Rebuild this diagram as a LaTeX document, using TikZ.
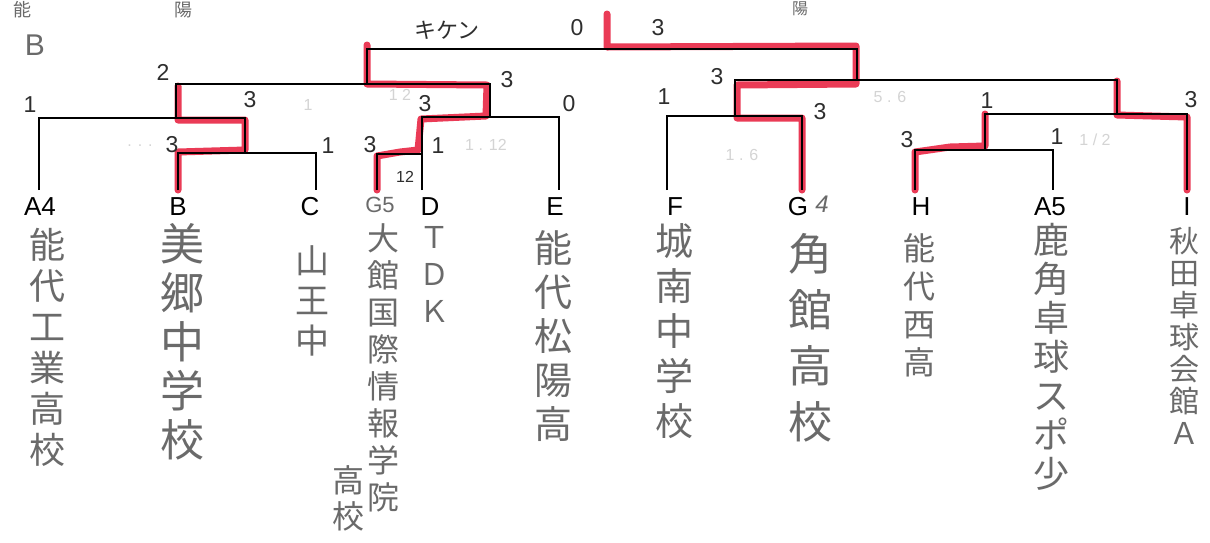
\documentclass[tikz,border=0pt]{standalone}
\usepackage{fontspec}
\setmainfont{Liberation Sans}
\newfontfamily\cjk{Noto Sans CJK JP}
\definecolor{hl}{HTML}{E8203F}
\definecolor{pencil}{HTML}{6A6A6A}
\definecolor{ink}{HTML}{2E2E2E}
\definecolor{faint}{HTML}{D4D4D4}
\begin{document}
\begin{tikzpicture}[x=1pt,y=-1pt,
 line/.style={black, line width=1.7pt},
 win/.style={hl, line width=7pt, line join=round, line cap=round, opacity=0.88},
 leaf/.style={font=\fontsize{26}{26}\selectfont, inner sep=0},
 score/.style={ink, font=\fontsize{23}{23}\selectfont, inner sep=0},
 faintnum/.style={faint, font=\fontsize{16}{16}\selectfont, inner sep=0},
 vname/.style={pencil, align=center, anchor=north, inner sep=0},
]
\useasboundingbox (0,0) rectangle (1210,542);
\fill[white] (0,0) rectangle (1210,542);
% leaf ends
\coordinate (A4) at (39,190);
\coordinate (B) at (178,190);
\coordinate (C) at (316,190);
\coordinate (G5) at (377,190);
\coordinate (D) at (422,190);
\coordinate (E) at (559,190);
\coordinate (F) at (667,190);
\coordinate (G) at (802,190);
\coordinate (H) at (915,190);
\coordinate (A5) at (1053,190);
\coordinate (I) at (1187,190);
% winner highlights
\draw[win] (B) -- (178,152) -- (245,150) -- (245,120) -- (178,120) -- (178,86);
\draw[win] (G5) -- (377,156) -- (400,152) -- (418,150) -- (421,119) -- (486,116) -- (487,85) -- (367,84) -- (367,45);
\draw[win] (607,14) -- (607,47) -- (856,46) -- (856,84) -- (737,85) -- (737,118) -- (802,118) -- (G);
\draw[win] (H) -- (915,152) -- (950,147) -- (985,146) -- (985,114);
\draw[win] (1117,81) -- (1117,115) -- (1187,117) -- (I);
% bracket lines
\draw[line] (A4) -- (39,118) -- (245,118) -- (245,153);
\draw[line] (B) -- (178,153) -- (316,153) -- (C);
\draw[line] (176,118) -- (176,84) -- (490,84) -- (490,117);
\draw[line] (G5) -- (377,154) -- (422,154);
\draw[line] (D) -- (422,117) -- (559,117) -- (E);
\draw[line] (367,84) -- (367,49) -- (857,49) -- (857,80);
\draw[line] (F) -- (667,116) -- (802,116) -- (G);
\draw[line] (735,116) -- (735,80) -- (1117,80) -- (1117,114);
\draw[line] (H) -- (915,150) -- (1053,150) -- (A5);
\draw[line] (985,150) -- (985,114) -- (1187,114) -- (I);
% leaf labels
\node[leaf] (lA4) at (40,207) {A4};
\node[leaf] (lB) at (178,207) {B};
\node[leaf] (lC) at (310,207) {C};
\node[pencil, font=\fontsize{22}{22}\selectfont, inner sep=0] (lG5) at (380,205) {G5};
\node[leaf] (lD) at (430,207) {D};
\node[leaf] (lE) at (555,207) {E};
\node[leaf] (lF) at (675,207) {F};
\node[leaf] (lG) at (798,207) {G};
\node[pencil, font=\fontsize{24}{24}\selectfont\itshape, inner sep=0] (lG4) at (822,204) {4};
\node[leaf] (lH) at (921,207) {H};
\node[leaf] (lA5) at (1050,207) {A5};
\node[leaf] (lI) at (1187,207) {I};
% team names
\node[vname, font=\cjk\fontsize{36}{41}\selectfont] (nA4) at (47,228) {能\\代\\工\\業\\高\\校};
\node[vname, font=\cjk\fontsize{44}{49}\selectfont] (nB) at (182,223) {美\\郷\\中\\学\\校};
\node[vname, font=\cjk\fontsize{34}{40}\selectfont] (nC) at (312,245) {山\\王\\中};
\node[vname, font=\cjk\fontsize{32}{37}\selectfont] (nG5) at (383,223) {大\\館\\国\\際\\情\\報\\学\\院};
\node[vname, font=\cjk\fontsize{32}{36}\selectfont] (nG5b) at (348,465) {高\\校};
\node[vname, font=\cjk\fontsize{30}{37}\selectfont] (nD) at (434,226) {Ｔ\\Ｄ\\Ｋ};
\node[vname, font=\cjk\fontsize{38}{44}\selectfont] (nE) at (553,230) {能\\代\\松\\陽\\高};
\node[vname, font=\cjk\fontsize{38}{45}\selectfont] (nF) at (674,223) {城\\南\\中\\学\\校};
\node[vname, font=\cjk\fontsize{44}{56}\selectfont] (nG) at (810,233) {角\\館\\高\\校};
\node[vname, font=\cjk\fontsize{32}{38}\selectfont] (nH) at (919,233) {能\\代\\西\\高};
\node[vname, font=\cjk\fontsize{36}{39}\selectfont] (nA5) at (1051,223) {鹿\\角\\卓\\球\\ス\\ポ\\少};
\node[vname, font=\cjk\fontsize{30}{32}\selectfont] (nI) at (1184,227) {秋\\田\\卓\\球\\会\\館\\Ａ};
% marks at top
\node[pencil, font=\cjk\fontsize{18}{18}\selectfont, inner sep=0] (tp1) at (22,10) {能};
\node[pencil, font=\cjk\fontsize{18}{18}\selectfont, inner sep=0] (tp2) at (183,10) {陽};
\node[pencil, font=\cjk\fontsize{16}{16}\selectfont, inner sep=0] (tp3) at (800,9) {陽};
\node[pencil, font=\fontsize{30}{30}\selectfont, inner sep=0] (tpB) at (35,45) {B};
% scores
\node[ink, font=\cjk\fontsize{22}{22}\selectfont, inner sep=0] (kiken) at (447,30) {キケン};
\node[score] (s1) at (577,28) {0};
\node[score] (s2) at (658,28) {3};
\node[score] (s3) at (163,72) {2};
\node[score] (s4) at (507,80) {3};
\node[score] (s5) at (30,105) {1};
\node[score] (s6) at (250,100) {3};
\node[score] (s7) at (172,145) {3};
\node[score] (s8) at (328,146) {1};
\node[score] (s9) at (425,104) {3};
\node[score] (s10) at (569,104) {0};
\node[score] (s11) at (370,145) {3};
\node[score] (s12) at (438,146) {1};
\node[score, font=\fontsize{16}{16}\selectfont] (s13) at (405,177) {12};
\node[score] (s14) at (717,77) {3};
\node[score] (s15) at (664,97) {1};
\node[score] (s16) at (820,112) {3};
\node[score] (s17) at (987,101) {1};
\node[score] (s18) at (1191,100) {3};
\node[score] (s19) at (907,140) {3};
\node[score] (s20) at (1057,137) {1};
% faint pencil notes
\node[faintnum] (f1) at (308,105) {1};
\node[faintnum] (f2) at (400,95) {1 2};
\node[faintnum] (f3) at (486,145) {1 . 12};
\node[faintnum] (f4) at (742,155) {1 . 6};
\node[faintnum] (f5) at (890,97) {5 . 6};
\node[faintnum] (f6) at (1095,140) {1 / 2};
\node[faintnum] (f7) at (140,146) {. . .};
\end{tikzpicture}
\end{document}
